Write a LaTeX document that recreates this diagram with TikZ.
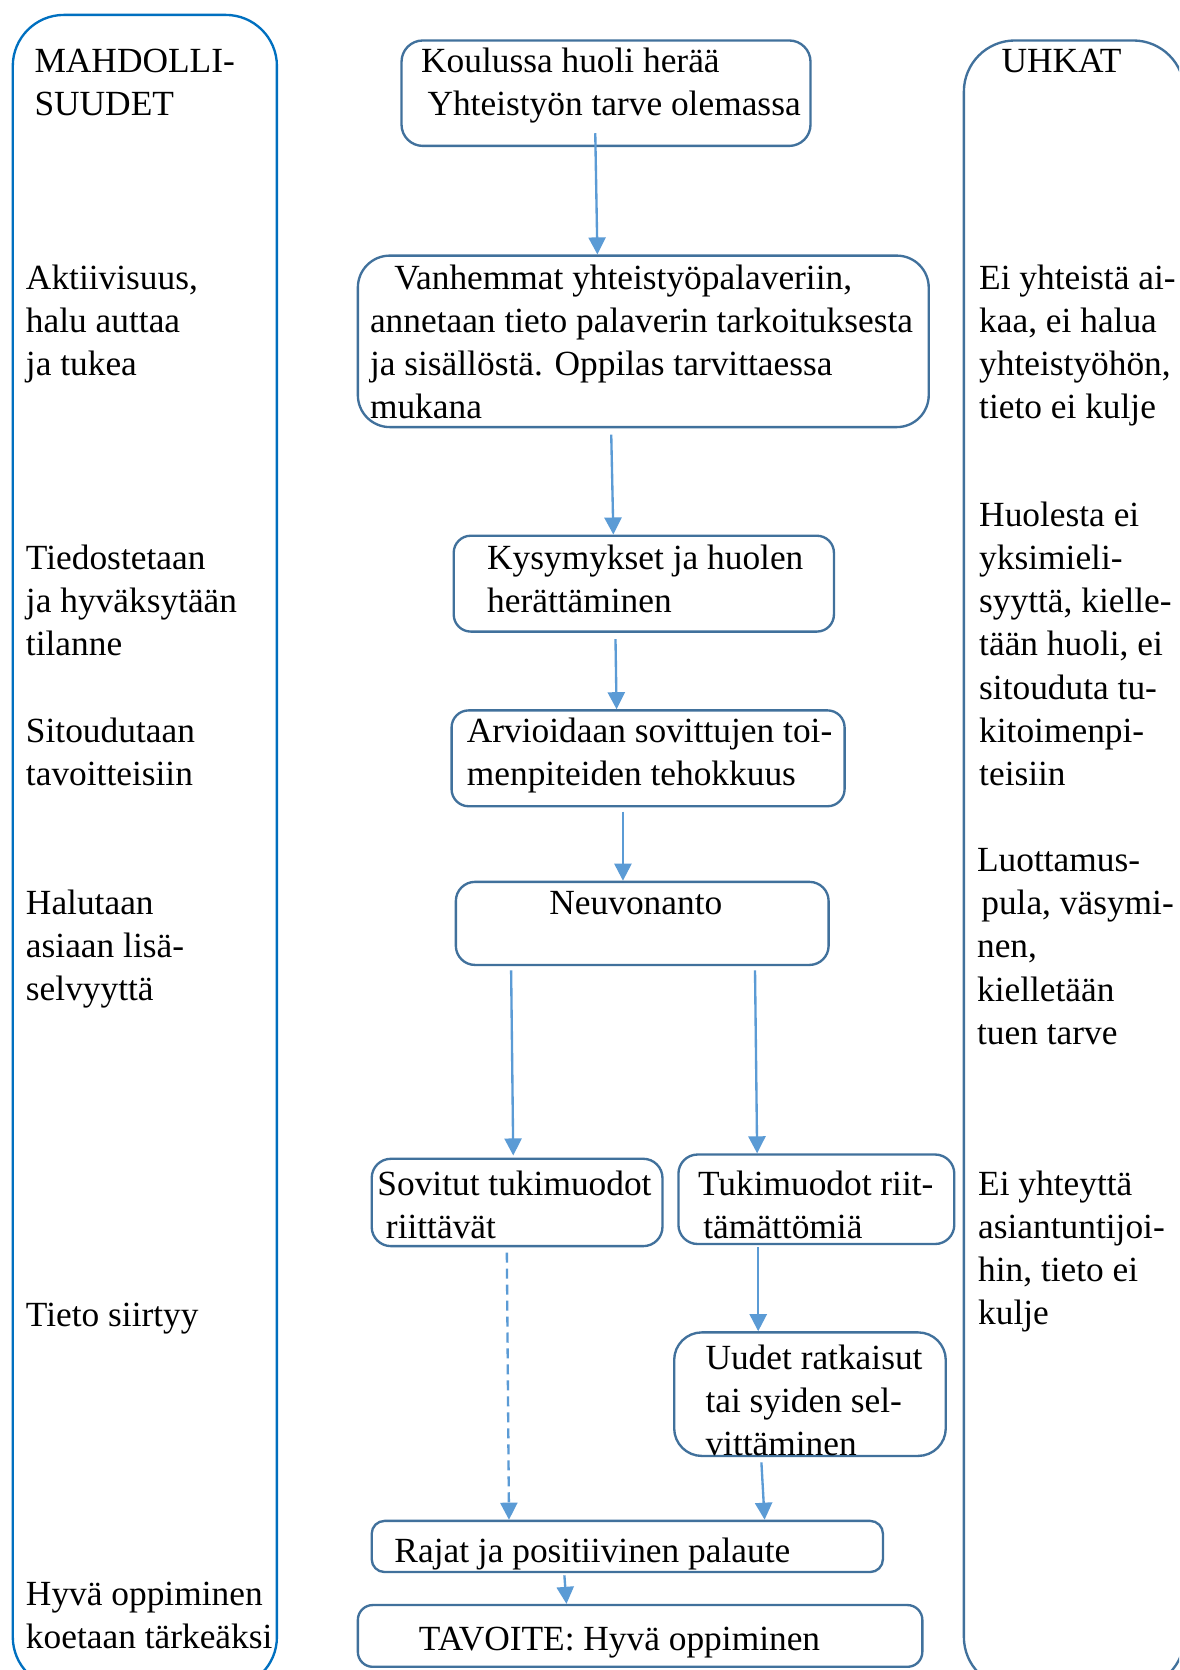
\documentclass[tikz,border=0pt]{standalone}
\usepackage{fontspec}
\setmainfont{Liberation Serif}
\usetikzlibrary{arrows.meta,fit,calc}
\definecolor{panelL}{RGB}{0,112,192}
\definecolor{boxc}{RGB}{65,113,156}
\definecolor{arrc}{RGB}{91,155,213}
\tikzset{
 boxs/.style={draw=boxc, line width=1.1pt, inner sep=0pt, rounded corners=#1},
 boxs/.default=9pt,
 panel/.style={line width=1.1pt, inner sep=0pt, rounded corners=24pt},
 arr/.style={draw=arrc, line width=1.1pt, -{Triangle[width=8pt,length=8pt]}},
 dasharr/.style={arr, dash pattern=on 4.7pt off 2.8pt},
 txt/.style={anchor=north west, inner sep=0pt, align=left, font=\fontsize{16.6pt}{20.25pt}\selectfont, yshift=14.175pt},
}
\begin{document}
\begin{tikzpicture}[x=0.5pt,y=-0.5pt]
\clip (0,0) rectangle (1107,1568);
\fill[white] (0,0) rectangle (1107,1568);
% side panels
\node[panel, draw=panelL, fit={(12,14) (260,1585)}] (pl) {};
\node[panel, draw=boxc, fit={(905,38) (1112,1585)}] (pr) {};
% central boxes
\node[boxs=10pt, fit={(377,38) (761,137)}] (b1) {};
\node[boxs=15pt, fit={(336,240) (872,401)}] (b2) {};
\node[boxs=8pt, fit={(426,503) (783,593)}] (b3) {};
\node[boxs=8pt, fit={(424,667) (793,757)}] (b4) {};
\node[boxs=9pt, fit={(428,828) (778,906)}] (b5) {};
\node[boxs=9pt, fit={(349,1088) (622,1170)}] (b6) {};
\node[boxs=9pt, fit={(637,1084) (896,1168)}] (b7) {};
\node[boxs=13pt, fit={(633,1251) (888,1367)}] (b8) {};
\node[boxs=6pt, fit={(349,1428) (829,1476)}] (b9) {};
\node[boxs=7pt, fit={(336,1507) (866,1565)}] (b10) {};
% left texts
\node[txt] (tl1) at (32,68) {\strut MAHDOLLI-\\SUUDET};
\node[txt] (tl2) at (24,271) {\strut Aktiivisuus,\\halu auttaa\\ja tukea};
\node[txt] (tl3) at (24,534) {\strut Tiedostetaan\\ja hyväksytään\\tilanne};
\node[txt] (tl4) at (24,697) {\strut Sitoudutaan\\tavoitteisiin};
\node[txt] (tl5) at (24,858) {\strut Halutaan\\asiaan lisä-\\selvyyttä};
\node[txt] (tl6) at (24,1245) {\strut Tieto siirtyy};
\node[txt] (tl7) at (24,1507) {\strut Hyvä oppiminen\\koetaan tärkeäksi};
% right texts
\node[txt] (tr1) at (940,68) {\strut UHKAT};
\node[txt] (tr2) at (919,271) {\strut Ei yhteistä ai-\\kaa, ei halua\\yhteistyöhön,\\tieto ei kulje};
\node[txt] (tr3) at (919,494) {\strut Huolesta ei\\yksimieli-\\syyttä, kielle-\\tään huoli, ei\\sitouduta tu-\\kitoimenpi-\\teisiin};
\node[txt] (tr4) at (917,818) {\strut Luottamus-\\\hspace*{2pt}pula, väsymi-\\nen,\\kielletään\\tuen tarve};
\node[txt] (tr5) at (918,1122) {\strut Ei yhteyttä\\asiantuntijoi-\\hin, tieto ei\\kulje};
% central texts
\node[txt] (t1) at (395,68) {\strut Koulussa huoli herää\\\hspace*{3pt}Yhteistyön tarve olemassa};
\node[txt] (t2) at (347,271) {\strut\hspace*{11.5pt}Vanhemmat yhteistyöpalaveriin,\\annetaan tieto palaverin tarkoituksesta\\ja sisällöstä. Oppilas tarvittaessa\\mukana};
\node[txt] (t3) at (457,534) {\strut Kysymykset ja huolen\\herättäminen};
\node[txt] (t4) at (438,697) {\strut Arvioidaan sovittujen toi-\\menpiteiden tehokkuus};
\node[txt, anchor=north] (t5) at (597,858) {\strut Neuvonanto};
\node[txt] (t6) at (354,1122) {\strut Sovitut tukimuodot\\\hspace*{4pt}riittävät};
\node[txt] (t7) at (655,1122) {\strut Tukimuodot riit-\\\hspace*{2.5pt}tämättömiä};
\node[txt] (t8) at (662,1285) {\strut Uudet ratkaisut\\tai syiden sel-\\vittäminen};
\node[txt] (t9) at (370,1467) {\strut Rajat ja positiivinen palaute};
\node[txt] (t10) at (393,1549) {\strut TAVOITE: Hyvä oppiminen};
% connectors
\draw[arr] ($(b1.south west)+(183,-13)$) -- ($(b2.north west)+(226,0)$);
\draw[arr] ($(b2.south west)+(239,6)$) -- ($(b3.north west)+(151,0)$);
\draw[arr] ($(b3.south west)+(153,6)$) -- ($(b4.north west)+(156,0)$);
\draw[arr] ($(b4.south west)+(162,4)$) -- ($(b5.north west)+(158,0)$);
\draw[arr] ($(b5.south west)+(53,4)$) -- ($(b6.north west)+(134,-2)$);
\draw[arr] ($(b5.south west)+(282,4)$) -- ($(b7.north west)+(75,0)$);
\draw[arr] ($(b7.south west)+(76,2)$) -- ($(b8.north west)+(80,0)$);
\draw[dasharr] ($(b6.south west)+(128,5)$) -- ($(b9.north west)+(130,0)$);
\draw[arr] ($(b8.south west)+(83,5)$) -- ($(b9.north west)+(370,0)$);
\draw[arr] ($(b9.south west)+(182,2)$) -- ($(b10.north west)+(197,0)$);
\end{tikzpicture}
\end{document}
